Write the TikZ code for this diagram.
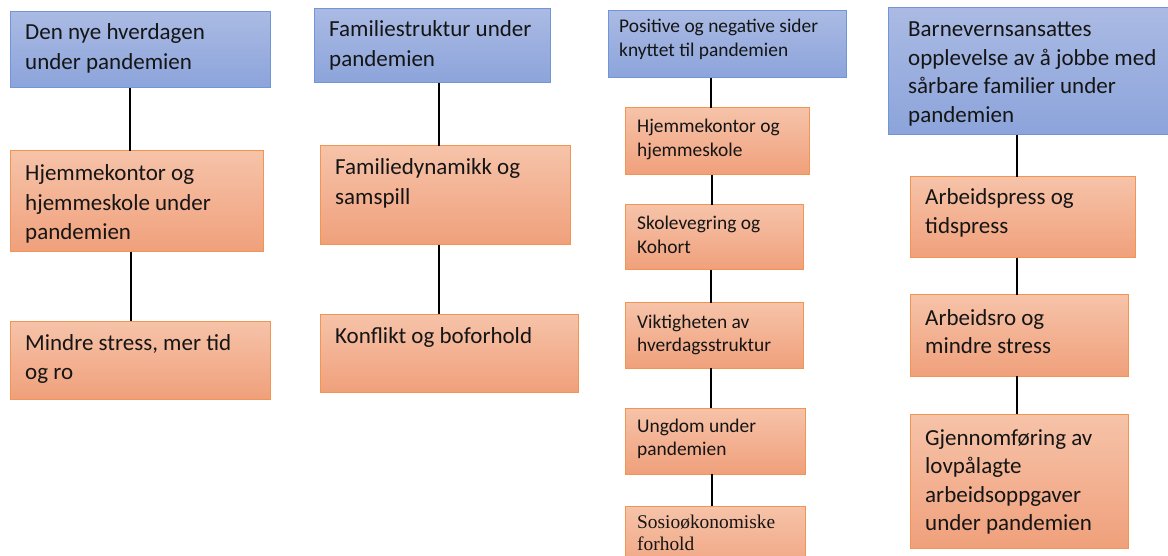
\documentclass[tikz,border=0pt]{standalone}
\usepackage{fontspec}
\setmainfont{Carlito}
\newfontfamily\serifx{Liberation Serif}
\definecolor{bluetop}{HTML}{AABAE3}
\definecolor{bluebot}{HTML}{8CA4DB}
\definecolor{blueline}{HTML}{7095D8}
\definecolor{orgtop}{HTML}{F6C3A9}
\definecolor{orgbot}{HTML}{F0A07B}
\definecolor{orgline}{HTML}{F29452}
\definecolor{ink}{HTML}{151515}
\newcommand\lns[1]{\begin{tabular}[t]{@{}l@{}}#1\end{tabular}}
\tikzset{
  bluebox/.style={draw=blueline, line width=1pt, top color=bluetop, bottom color=bluebot, inner sep=0pt, outer sep=0pt},
  orgbox/.style={draw=orgline, line width=1pt, top color=orgtop, bottom color=orgbot, inner sep=0pt, outer sep=0pt},
  big/.style={anchor=base west, inner sep=0pt, text=ink, font=\fontsize{23}{29.5}\selectfont},
  mid/.style={anchor=base west, inner sep=0pt, text=ink, font=\fontsize{23}{28.5}\selectfont},
  small/.style={anchor=base west, inner sep=0pt, text=ink, font=\fontsize{19.4}{23.5}\selectfont},
  conn/.style={draw=black, line width=2.4pt},
  thinconn/.style={draw=black, line width=1.4pt},
}
\newcommand\mybox[6]{%
  \node[#2, minimum width={#5-#3}, minimum height={#6-#4}] (#1) at ({(#3+#5)/2},{(#4+#6)/2}) {};}
\begin{document}
\begin{tikzpicture}[x=1pt,y=-1pt]
\clip (0,0) rectangle (1168,556);
\fill[white] (0,0) rectangle (1168,556);
% column 1
\mybox{a1}{bluebox}{10}{12}{270}{88}
\mybox{a2}{orgbox}{10}{151}{263}{252}
\mybox{a3}{orgbox}{10}{321}{270}{399}
\node[big] (a1t) at (25,40) {\lns{Den nye hverdagen\\under pandemien}};
\node[big] (a2t) at (25,181) {\lns{Hjemmekontor og\\hjemmeskole under\\pandemien}};
\node[big] (a3t) at (25,350) {\lns{Mindre stress, mer tid\\og ro}};
\draw[conn] (a1.south -| 130,0) -- (a2.north -| 130,0);
\draw[conn] (a2.south -| 131,0) -- (a3.north -| 131,0);
% column 2
\mybox{b1}{bluebox}{314}{9}{550}{83}
\mybox{b2}{orgbox}{320}{146}{570}{245}
\mybox{b3}{orgbox}{320}{314}{578}{392}
\node[big] (b1t) at (329,37) {\lns{Familiestruktur under\\pandemien}};
\node[big] (b2t) at (335,175) {\lns{Familiedynamikk og\\samspill}};
\node[big] (b3t) at (335,343) {\lns{Konflikt og boforhold}};
\draw[conn] (b1.south -| 439,0) -- (b2.north -| 439,0);
\draw[conn] (b2.south -| 439,0) -- (b3.north -| 439,0);
% column 3
\mybox{c1}{bluebox}{608}{11}{846}{78}
\mybox{c2}{orgbox}{625}{108}{809}{175}
\mybox{c3}{orgbox}{625}{205}{803}{270}
\mybox{c4}{orgbox}{625}{303}{803}{368}
\mybox{c5}{orgbox}{625}{408}{805}{474}
\mybox{c6}{orgbox}{625}{506}{805}{580}
\node[small] (c1t) at (619,33) {\lns{Positive og negative sider\\knyttet til pandemien}};
\node[small] (c2t) at (637,133) {\lns{Hjemmekontor og\\hjemmeskole}};
\node[small] (c3t) at (637,230) {\lns{Skolevegring og\\Kohort}};
\node[small] (c4t) at (637,328) {\lns{Viktigheten av\\hverdagsstruktur}};
\node[small] (c5t) at (637,432) {\lns{Ungdom under\\pandemien}};
\node[small, font=\serifx\fontsize{19.4}{22.5}\selectfont] (c6t) at (637,528) {\lns{Sosioøkonomiske\\forhold}};
\draw[thinconn] (c1.south -| 711,0) -- (c2.north -| 711,0);
\draw[thinconn] (c2.south -| 712,0) -- (c3.north -| 712,0);
\draw[thinconn] (c3.south -| 711,0) -- (c4.north -| 711,0);
\draw[thinconn] (c4.south -| 711,0) -- (c5.north -| 711,0);
\draw[thinconn] (c5.south -| 712,0) -- (c6.north -| 712,0);
% column 4
\mybox{d1}{bluebox}{888}{8}{1175}{135}
\mybox{d2}{orgbox}{910}{177}{1135}{258}
\mybox{d3}{orgbox}{910}{295}{1128}{376}
\mybox{d4}{orgbox}{910}{414}{1128}{548}
\node[mid] (d1t) at (908,37) {\lns{Barnevernsansattes\\opplevelse av å jobbe med\\sårbare familier under\\pandemien}};
\node[mid] (d2t) at (925,205) {\lns{Arbeidspress og\\tidspress}};
\node[mid] (d3t) at (925,325) {\lns{Arbeidsro og\\mindre stress}};
\node[mid] (d4t) at (925,445) {\lns{Gjennomføring av\\lovpålagte\\arbeidsoppgaver\\under pandemien}};
\draw[conn] (d1.south -| 1017,0) -- (d2.north -| 1017,0);
\draw[conn] (d2.south -| 1017,0) -- (d3.north -| 1017,0);
\draw[conn] (d3.south -| 1017,0) -- (d4.north -| 1017,0);
\end{tikzpicture}
\end{document}
